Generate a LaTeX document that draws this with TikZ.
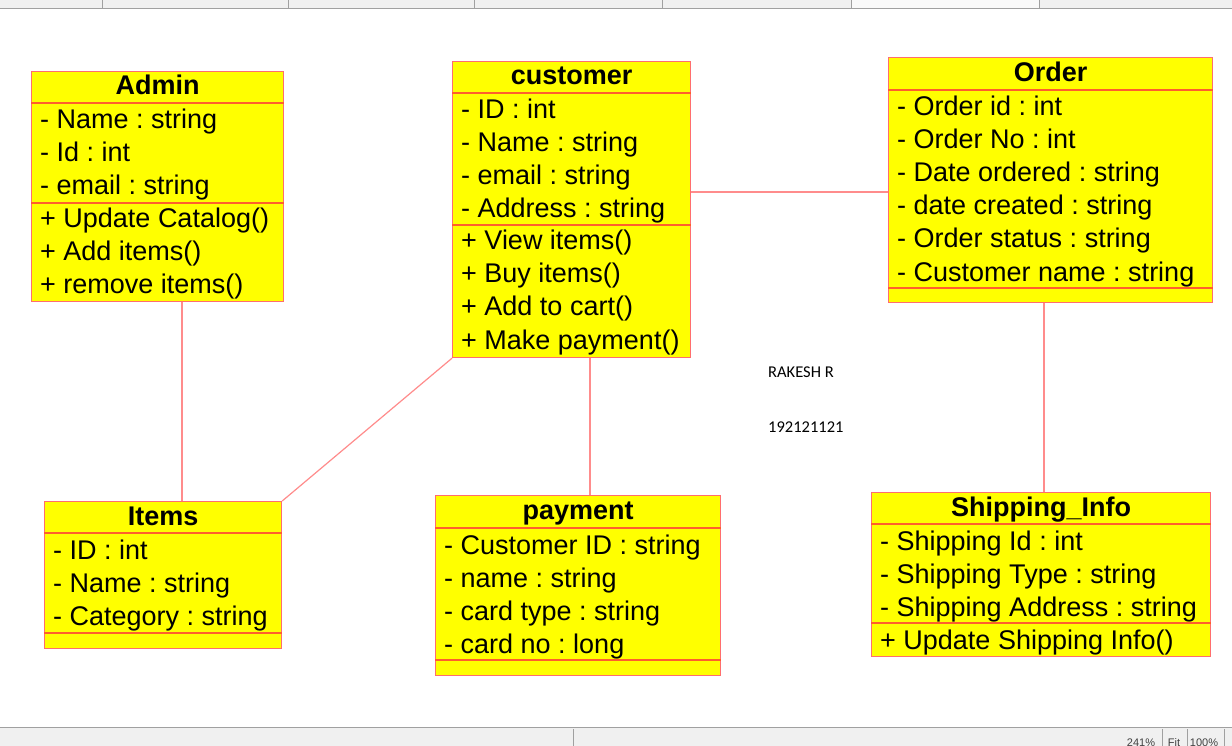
\documentclass[tikz,border=0pt]{standalone}
\usepackage{fontspec}
\setmainfont{Liberation Sans}
\newfontfamily\notefont{Carlito}
\usepackage{tikz}
\usetikzlibrary{calc}
\frenchspacing

\definecolor{umlfill}{RGB}{255,255,0}
\definecolor{umlborder}{RGB}{255,110,110}
\definecolor{umlsep}{RGB}{255,95,45}
\definecolor{umlline}{RGB}{255,140,140}
\definecolor{barfill}{RGB}{240,240,240}
\definecolor{bargray}{RGB}{160,160,160}

\tikzset{
    classbox/.style={draw=umlborder, line width=1.2pt, fill=umlfill, anchor=north west, inner sep=0pt},
    classname/.style={font=\fontsize{27}{33}\selectfont\bfseries, inner sep=0pt, anchor=base},
    member/.style={font=\fontsize{27}{33}\selectfont, inner sep=0pt, anchor=base west},
    sepline/.style={draw=umlsep, line width=1.2pt},
    assoc/.style={draw=umlline, line width=1.2pt},
    note/.style={font=\notefont\fontsize{16.5}{18}\selectfont, inner sep=0pt, anchor=base west},
    status/.style={font=\fontsize{11}{13}\selectfont, inner sep=0pt, anchor=base, text=black!75}
}

% compartment line at #2 below the top of class #1
\newcommand{\umlsep}[2]{\draw[sepline] ([yshift=-#2pt]#1.north west) -- ([yshift=-#2pt]#1.north east);}
% rows of class #1, first baseline at #2 below the top
\newcommand{\umlrows}[3]{%
    \foreach \txt [count=\k from 0] in {#3}
        \node[member] (#1-#2-\k) at ([xshift=9pt, yshift={-(#2+33*\k)*1pt}]#1.north west) {\txt};}

\begin{document}
\begin{tikzpicture}[x=1pt, y=-1pt]
    \useasboundingbox (0,0) rectangle (1232,746);
    \fill[white] (0,0) rectangle (1232,746);

    % window bars
    \fill[barfill] (0,0) rectangle (1232,8);
    \fill[white!60!barfill] (851,0) rectangle (1039,8);
    \draw[bargray, line width=1.5pt] (0,8.5) -- (1232,8.5);
    \foreach \x in {102, 288, 474, 662, 851, 1039}
        \draw[bargray] (\x,0) -- (\x,8);
    \fill[barfill] (0,728) rectangle (1232,746);
    \draw[bargray, line width=1.2pt] (0,727.5) -- (1232,727.5);
    \foreach \x in {573, 1162, 1187, 1224}
        \draw[bargray] (\x,729) -- (\x,746);
    \node[status] (zoom) at (1141,746) {241\%};
    \node[status] (fit) at (1174,746) {Fit};
    \node[status] (full) at (1204,746) {100\%};

    % Admin
    \node[classbox, minimum width=252pt, minimum height=230pt] (admin) at (31,71) {};
    \node[classname] (admin-title) at ([yshift=-24pt]admin.north) {Admin};
    \umlsep{admin}{32}
    \umlsep{admin}{132}
    \umlrows{admin}{58}{- Name : string, - Id : int, - email : string}
    \umlrows{admin}{157}{+ Update Catalog(), + Add items(), + remove items()}

    % customer
    \node[classbox, minimum width=238pt, minimum height=296pt] (customer) at (452,61) {};
    \node[classname] (customer-title) at ([yshift=-24pt]customer.north) {customer};
    \umlsep{customer}{32}
    \umlsep{customer}{164}
    \umlrows{customer}{58}{- ID : int, - Name : string, - email : string, - Address : string}
    \umlrows{customer}{189}{+ View items(), + Buy items(), + Add to cart(), + Make payment()}

    % Order
    \node[classbox, minimum width=324pt, minimum height=245pt] (order) at (888,57) {};
    \node[classname] (order-title) at ([yshift=-25pt]order.north) {Order};
    \umlsep{order}{33}
    \umlsep{order}{231}
    \umlrows{order}{59}{- Order id : int, - Order No : int, - Date ordered : string,
        - date created : string, - Order status : string, - Customer name : string}

    % Items
    \node[classbox, minimum width=237pt, minimum height=147pt] (items) at (44,501) {};
    \node[classname] (items-title) at ([yshift=-24pt]items.north) {Items};
    \umlsep{items}{32}
    \umlsep{items}{132}
    \umlrows{items}{58}{- ID : int, - Name : string, - Category : string}

    % payment
    \node[classbox, minimum width=285pt, minimum height=180pt] (payment) at (435,495) {};
    \node[classname] (payment-title) at ([yshift=-24pt]payment.north) {payment};
    \umlsep{payment}{33}
    \umlsep{payment}{165}
    \umlrows{payment}{59}{- Customer ID : string, - name : string, - card type : string, - card no : long}

    % Shipping_Info
    \node[classbox, minimum width=339pt, minimum height=164pt] (shipping) at (871,492) {};
    \node[classname] (shipping-title) at ([yshift=-24pt]shipping.north) {Shipping\_Info};
    \umlsep{shipping}{32}
    \umlsep{shipping}{131}
    \umlrows{shipping}{58}{- Shipping Id : int, - Shipping Type : string, - Shipping Address : string}
    \umlrows{shipping}{157}{+ Update Shipping Info()}

    % associations
    \draw[assoc] ([xshift=151pt]admin.south west) -- ([xshift=138pt]items.north west);
    \draw[assoc] (customer.south west) -- (items.north east);
    \draw[assoc] ([xshift=138pt]customer.south west) -- ([xshift=155pt]payment.north west);
    \draw[assoc] ([yshift=-131pt]customer.north east) -- ([yshift=-135pt]order.north west);
    \draw[assoc] ([xshift=156pt]order.south west) -- ([xshift=173pt]shipping.north west);

    % student note
    \node[note] (name) at (768,377) {RAKESH R};
    \node[note] (regno) at (768,432) {192121121};
\end{tikzpicture}
\end{document}
